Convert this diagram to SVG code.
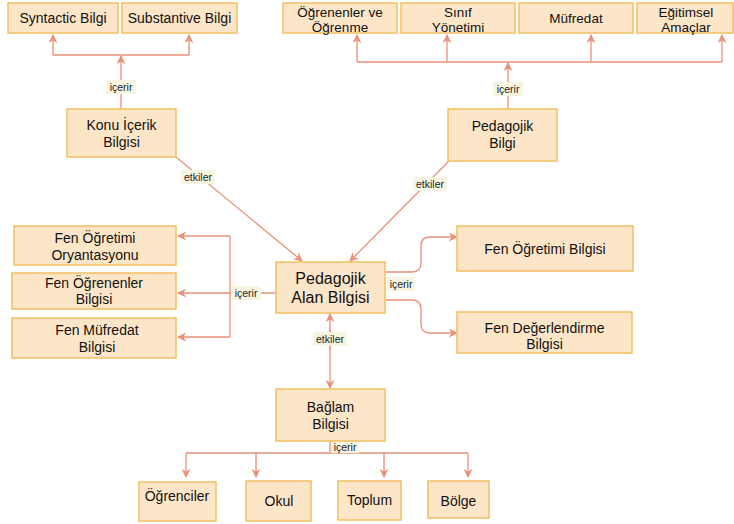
<svg xmlns="http://www.w3.org/2000/svg" width="734" height="524" viewBox="0 0 734 524">
<defs>
<marker id="ah" viewBox="0 0 10 10" refX="9" refY="5" markerWidth="9" markerHeight="9" markerUnits="userSpaceOnUse" orient="auto">
<path d="M0,0 L10,5 L0,10 L3,5 Z" fill="#e8907a"/>
</marker>
<style>
.box{fill:#fde6c8;stroke:#f0c060;stroke-width:1.5}
.t{font-family:"Liberation Sans",Arial,sans-serif;font-size:14px;fill:#111;text-anchor:middle}
.tb{font-size:16px}
.ts{font-size:13.5px}
.c{fill:none;stroke:#e8907a;stroke-width:1.3}
.a{marker-end:url(#ah)}
.lb{fill:#f7f5e2}
.l{font-family:"Liberation Sans",Arial,sans-serif;font-size:10.5px;fill:#222;text-anchor:middle}
</style>
</defs>
<rect width="734" height="524" fill="#ffffff"/>

<g id="connectors">
<path class="c" d="M53,55 L189,55"/>
<path class="c a" d="M53,55 L53,35"/>
<path class="c a" d="M189,55 L189,35"/>
<path class="c a" d="M121,109 L121,56"/>
<path class="c" d="M357,62 L722,62"/>
<path class="c a" d="M357,62 L357,35"/>
<path class="c a" d="M447,62 L447,35"/>
<path class="c a" d="M591,62 L591,35"/>
<path class="c a" d="M722,62 L722,35"/>
<path class="c a" d="M508,109 L508,63"/>
<path class="c a" d="M176,157 L302,261"/>
<path class="c a" d="M449,161 L350,261"/>
<path class="c" d="M230,236 L230,337"/>
<path class="c a" d="M276,293 L178,293"/>
<path class="c a" d="M230,236 L178,236"/>
<path class="c a" d="M230,337 L178,337"/>
<path class="c a" d="M386,272 L412,272 Q421,272 421,263 L421,246 Q421,237 430,237 L457,237"/>
<path class="c a" d="M386,300 L412,300 Q421,300 421,309 L421,324 Q421,333 430,333 L457,333"/>
<path class="c a" d="M330,350 L330,314"/>
<path class="c a" d="M330,330 L330,388"/>
<path class="c" d="M330,441 L330,453 M186,453 L468,453"/>
<path class="c a" d="M186,453 L186,477"/>
<path class="c a" d="M256,453 L256,477"/>
<path class="c a" d="M384,453 L384,477"/>
<path class="c a" d="M468,453 L468,477"/>
<rect class="lb" x="106" y="80" width="30" height="14"/>
<text class="l" x="121" y="90.5">içerir</text>
<rect class="lb" x="493" y="82" width="30" height="14"/>
<text class="l" x="508" y="92.5">içerir</text>
<rect class="lb" x="181" y="170" width="34" height="14"/>
<text class="l" x="198" y="180.5">etkiler</text>
<rect class="lb" x="413" y="177" width="34" height="14"/>
<text class="l" x="430" y="187.5">etkiler</text>
<rect class="lb" x="231" y="286" width="30" height="14"/>
<text class="l" x="246" y="296.5">içerir</text>
<rect class="lb" x="387" y="277" width="28" height="14"/>
<text class="l" x="401" y="287.5">içerir</text>
<rect class="lb" x="313" y="332" width="34" height="14"/>
<text class="l" x="330" y="342.5">etkiler</text>
<rect class="lb" x="331" y="441" width="28" height="12"/>
<text class="l" x="345" y="450.5">içerir</text>
</g>

<g id="syntactic"><rect class="box" x="8" y="3" width="110" height="30"/><text class="t" x="63" y="23">Syntactic Bilgi</text></g>
<g id="substantive"><rect class="box" x="122" y="3" width="115" height="30"/><text class="t" x="179.5" y="23">Substantive Bilgi</text></g>
<g id="konu"><rect class="box" x="67" y="109" width="109" height="48"/><text class="t" x="121.5" y="130">Konu İçerik</text><text class="t" x="121.5" y="147">Bilgisi</text></g>

<g id="ogrenenler"><rect class="box" x="283" y="3" width="114" height="30"/><text class="t ts" x="340" y="17">Öğrenenler ve</text><text class="t ts" x="340" y="32">Öğrenme</text></g>
<g id="sinif"><rect class="box" x="401" y="3" width="114" height="30"/><text class="t ts" x="458" y="17">Sınıf</text><text class="t ts" x="458" y="32">Yönetimi</text></g>
<g id="mufredat"><rect class="box" x="519" y="3" width="114" height="30"/><text class="t ts" x="576" y="23">Müfredat</text></g>
<g id="egitimsel"><rect class="box" x="637" y="3" width="96" height="30"/><text class="t ts" x="686" y="17">Eğitimsel</text><text class="t ts" x="686" y="32">Amaçlar</text></g>
<g id="pedagojik"><rect class="box" x="448" y="109" width="109" height="52"/><text class="t" x="502.5" y="131">Pedagojik</text><text class="t" x="502.5" y="148">Bilgi</text></g>

<g id="pab"><rect class="box" x="276" y="262" width="109" height="51"/><text class="t tb" x="330.5" y="284">Pedagojik</text><text class="t tb" x="330.5" y="303">Alan Bilgisi</text></g>

<g id="fen-oryantasyon"><rect class="box" x="14" y="226" width="162" height="39"/><text class="t" x="95" y="243">Fen Öğretimi</text><text class="t" x="95" y="260">Oryantasyonu</text></g>
<g id="fen-ogrenenler"><rect class="box" x="12" y="273" width="164" height="36"/><text class="t" x="94" y="288">Fen Öğrenenler</text><text class="t" x="94" y="304">Bilgisi</text></g>
<g id="fen-mufredat"><rect class="box" x="12" y="318" width="164" height="40"/><text class="t" x="97" y="335">Fen Müfredat</text><text class="t" x="97" y="352">Bilgisi</text></g>

<g id="fen-ogretimi"><rect class="box" x="457" y="226" width="176" height="45"/><text class="t" x="545" y="254">Fen Öğretimi Bilgisi</text></g>
<g id="fen-degerlendirme"><rect class="box" x="457" y="312" width="175" height="41"/><text class="t" x="544.5" y="333">Fen Değerlendirme</text><text class="t" x="544.5" y="349">Bilgisi</text></g>

<g id="baglam"><rect class="box" x="276" y="389" width="109" height="52"/><text class="t" x="330.5" y="412">Bağlam</text><text class="t" x="330.5" y="429">Bilgisi</text></g>

<g id="ogrenciler"><rect class="box" x="139" y="482" width="77" height="39"/><text class="t" x="177" y="501">Öğrenciler</text></g>
<g id="okul"><rect class="box" x="246" y="481" width="65" height="40"/><text class="t" x="279" y="506">Okul</text></g>
<g id="toplum"><rect class="box" x="338" y="481" width="63" height="39"/><text class="t" x="369.5" y="505">Toplum</text></g>
<g id="bolge"><rect class="box" x="428" y="481" width="61" height="37"/><text class="t" x="458.5" y="506">Bölge</text></g>
</svg>
